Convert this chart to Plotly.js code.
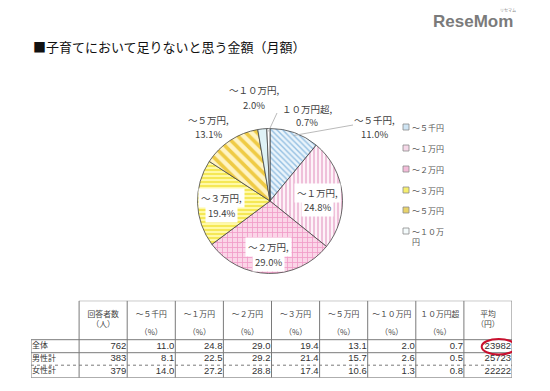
<!DOCTYPE html>
<html><head><meta charset="utf-8">
<script src="https://cdn.plot.ly/plotly-3.0.1.min.js"></script>
<style>html,body{margin:0;padding:0;background:#fff}</style>
</head><body><div id="chart" style="width:550px;height:391px"></div>
<script>
// ---- data ----
const categories = ['～５千円','～１万円','～２万円','～３万円','～５万円','～１０万円','１０万円超'];
const legendLabels = ['～５千円','～１万円','～２万円','～３万円','～５万円','～１０万<br>円'];
const shareAll = [11.0,24.8,29.0,19.4,13.1,2.0,0.7];
const shareMale = [8.1,22.5,29.2,21.4,15.7,2.6,0.5];
const shareFemale = [14.0,27.2,28.8,17.4,10.6,1.3,0.8];
const groups = ['全体','男性計','女性計'];
const respondents = [762,383,379];
const averageYen = [23982,25723,22222];
const headRespondents = '回答者数<br>（人）';
const headAverage = '平均<br>（円）';
const headUnit = '（%）';
const titleText = '■子育てにおいて足りないと思う金額（月額）';

// ---- styles ----
const W = 550, H = 391;
const px = x => x / W, py = y => 1 - y / H;
const FJ = '"Noto Sans CJK JP", "Liberation Sans", sans-serif';
const FN = '"Liberation Sans", "Noto Sans CJK JP", sans-serif';
const sliceBg = ['#eaf4fb','#fdf3f8','#fbd6e8','#fff9a8','#fff4c4','#dff2f6','#ffffff'];
const sliceFg = ['#94bfe2','#eaaace','#f09cc8','#f4e64c','#efcb45','#dff2f6','#ffffff'];
const sliceShape = ['\\','|','+','-','\\','',''];
const sliceSize = [4,4,5,4,8,4,4];
const sliceSolid = [0.35,0.35,0.3,0.45,0.45,0.3,0.3];
const legendFill = ['#cfe5f4','#f6d8e8','#f3bcd9','#f6ee6e','#e8d36a','#f4fbfc'];

// pie geometry
const cx = 270, cy = 201, R = 72.5;

const pie = {
  type: 'pie', values: shareAll, labels: categories, sort: false,
  direction: 'clockwise', rotation: 0, textinfo: 'none', hoverinfo: 'label+percent',
  showlegend: false,
  domain: {x: [px(cx - R), px(cx + R)], y: [py(cy + R), py(cy - R)]},
  marker: {colors: sliceBg, line: {color: '#454545', width: 0.8},
    pattern: {shape: sliceShape, bgcolor: sliceBg, fgcolor: sliceFg, size: sliceSize, solidity: sliceSolid, fillmode: 'replace'}}
};

// table text via scatter on hidden axes
const colBounds = [0,1,2,3,4,5,6,7,8,9,10];
const rowBounds = [0,39,52,64.5,77];
const rowsData = [
  [respondents[0], ...shareAll.map(v => v.toFixed(1)), averageYen[0]],
  [respondents[1], ...shareMale.map(v => v.toFixed(1)), averageYen[1]],
  [respondents[2], ...shareFemale.map(v => v.toFixed(1)), averageYen[2]]
];
const cellX = [], cellY = [], cellT = [];
rowsData.forEach((row, r) => row.forEach((v, c) => {
  cellX.push(colBounds[c + 2] - 0.02); cellY.push((rowBounds[r + 1] + rowBounds[r + 2]) / 2); cellT.push(String(v));
}));
const cells = {type: 'scatter', mode: 'text', x: cellX, y: cellY, text: cellT, textposition: 'middle left',
  textfont: {family: FN, size: 9.5, color: '#333'}, hoverinfo: 'skip', showlegend: false};
const rowLabels = {type: 'scatter', mode: 'text', x: groups.map(() => 0.02),
  y: groups.map((g, r) => (rowBounds[r + 1] + rowBounds[r + 2]) / 2), text: groups, textposition: 'middle right',
  textfont: {family: FJ, size: 8, color: '#333'}, hoverinfo: 'skip', showlegend: false};
const headTop = {type: 'scatter', mode: 'text',
  x: [1.5, ...categories.map((c, i) => i + 2.5), 9.5],
  y: [19, ...categories.map(() => 14), 19],
  text: [headRespondents, ...categories, headAverage], textposition: 'middle center',
  textfont: {family: FJ, size: 7.8, color: '#444'}, hoverinfo: 'skip', showlegend: false};
const headUnits = {type: 'scatter', mode: 'text', x: categories.map((c, i) => i + 2.5), y: categories.map(() => 32),
  text: categories.map(() => headUnit), textposition: 'middle center',
  textfont: {family: FJ, size: 7.8, color: '#444'}, hoverinfo: 'skip', showlegend: false};

// table lines
const LC = '#7a7a7a';
const shapes = [];
const ln = (x0, y0, x1, y1, dash) => shapes.push({type: 'line', xref: 'x', yref: 'y', x0, y0, x1, y1, line: {color: LC, width: 1, dash: dash || 'solid'}});
ln(1, 0, 10, 0);
ln(0, rowBounds[1], 10, rowBounds[1]);
ln(0, rowBounds[2], 10, rowBounds[2]);
ln(0, rowBounds[3], 10, rowBounds[3], 'dot');
ln(0, rowBounds[4], 10, rowBounds[4]);
ln(0, rowBounds[1], 0, rowBounds[4]);
for (let c = 1; c <= 10; c++) ln(colBounds[c], 0, colBounds[c], rowBounds[4]);
// highlight ellipse around overall average
shapes.push({type: 'circle', xref: 'x', yref: 'y', x0: 9.37, x1: 10.08, y0: 38.3, y1: 53.8, line: {color: '#c8102e', width: 2}});

// leader lines from slices
function sliceMid(i) {
  const tot = shareAll.reduce((a, b) => a + b, 0);
  let cum = 0; for (let k = 0; k < i; k++) cum += shareAll[k];
  const a = (cum + shareAll[i] / 2) / tot * 2 * Math.PI;
  return [cx + R * 0.96 * Math.sin(a), cy - R * 0.96 * Math.cos(a)];
}
const leaders = [[0, 353, 125], [6, 277, 113]];
leaders.forEach(([i, ex, ey]) => {
  const [sx, sy] = sliceMid(i);
  shapes.push({type: 'line', xref: 'paper', yref: 'paper', x0: px(sx), y0: py(sy), x1: px(ex), y1: py(ey), line: {color: '#a8a8a8', width: 0.8}});
});

// legend squares
const legY = [127, 148, 169, 190, 210, 231];
legendLabels.forEach((l, i) => shapes.push({type: 'rect', xref: 'paper', yref: 'paper',
  x0: px(403), x1: px(409), y0: py(legY[i] + 3), y1: py(legY[i] - 3), fillcolor: legendFill[i], line: {color: '#8a8a8a', width: 0.8}}));

// annotations
const annotations = [];
annotations.push({xref: 'paper', yref: 'paper', x: px(31), y: py(47), xanchor: 'left', yanchor: 'middle', showarrow: false,
  text: titleText, font: {family: FJ, size: 13, color: '#111'}});
annotations.push({xref: 'paper', yref: 'paper', x: px(431), y: py(21), xanchor: 'left', yanchor: 'middle', showarrow: false,
  text: '<b>ReseMom</b>', font: {family: FN, size: 17, color: '#7b7b7b'}});
annotations.push({xref: 'paper', yref: 'paper', x: px(508), y: py(10), xanchor: 'center', yanchor: 'middle', showarrow: false,
  text: 'リセマム', font: {family: FJ, size: 4, color: '#888'}});
// pie labels: [centre x, first line y, second line y, white box]
const labelPos = [[374,120,134,false],[317,193,207,true],[268,247,262,true],[221,198,213,true],[208,120,134,false],[254,90,105,false],[307,109,122,false]];
categories.forEach((c, i) => {
  const [lx, ly1, ly2, box] = labelPos[i];
  const lines = [[c + ',', ly1], [shareAll[i].toFixed(1) + '%', ly2]];
  lines.forEach(([t, ly]) => annotations.push({xref: 'paper', yref: 'paper', x: px(lx), y: py(ly), xanchor: 'center', yanchor: 'middle', showarrow: false,
    text: t, bgcolor: box ? '#ffffff' : 'rgba(0,0,0,0)', borderpad: box ? 2 : 0,
    font: {family: FJ, size: 9.5, color: '#404040'}}));
});
// legend texts
legendLabels.forEach((l, i) => annotations.push({xref: 'paper', yref: 'paper', x: px(410), y: py(legY[i] - 7), xanchor: 'left', yanchor: 'top',
  showarrow: false, align: 'left', text: l, font: {family: FJ, size: 8, color: '#555'}}));

const layout = {
  width: W, height: H, margin: {l: 0, r: 0, t: 0, b: 0}, paper_bgcolor: '#fff', plot_bgcolor: 'rgba(0,0,0,0)',
  showlegend: false,
  xaxis: {domain: [px(31), px(512)], range: [0, 10], visible: false, fixedrange: true},
  yaxis: {domain: [py(377.7), py(300.7)], range: [77, 0], visible: false, fixedrange: true},
  shapes, annotations
};
Plotly.newPlot('chart', [pie, cells, rowLabels, headTop, headUnits], layout, {displayModeBar: false, staticPlot: true});
</script></body></html>
